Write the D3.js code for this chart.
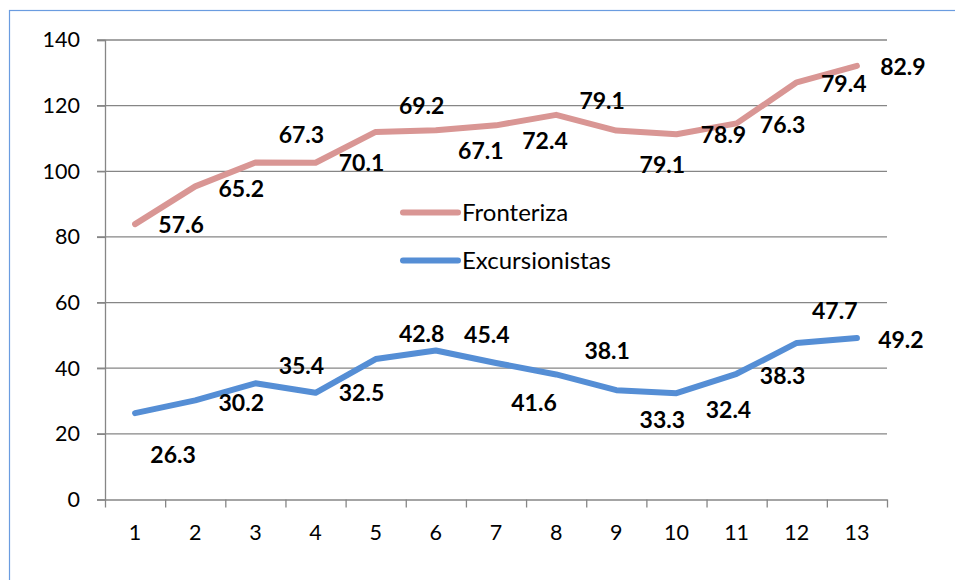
<!DOCTYPE html>
<html>
<head>
<meta charset="utf-8">
<script src="https://cdnjs.cloudflare.com/ajax/libs/d3/7.8.5/d3.min.js"></script>
<style>
body { margin: 0; background: #fff; }
text { font-family: Lato, "Open Sans", sans-serif; }
</style>
</head>
<body>
<svg id="visualisation" width="955" height="580"></svg>
<script>
var categories = ["1", "2", "3", "4", "5", "6", "7", "8", "9", "10", "11", "12", "13"];
var excursionistas = [26.3, 30.2, 35.4, 32.5, 42.8, 45.4, 41.6, 38.1, 33.3, 32.4, 38.3, 47.7, 49.2];
var fronteriza = [57.6, 65.2, 67.3, 70.1, 69.2, 67.1, 72.4, 79.1, 79.1, 78.9, 76.3, 79.4, 82.9];
var yTicks = [0, 20, 40, 60, 80, 100, 120, 140];
var seriesNames = ["Fronteriza", "Excursionistas"];

// label placement (dx, dy from the point), as Excel left them
var frontLabelPos = [[46, 1], [46, 2], [46, -28], [46, 0], [46, -26], [45, 20], [49, 15],
    [46, -14], [46, 34], [47, 1], [46, 1], [47, 1], [46, 1]];
var excLabelPos = [[38, 42], [46, 2], [46, -18], [46, 0], [46, -25], [51, -16], [38, 40],
    [51, -24], [46, 30], [52, 17], [46, 2], [38, -32], [44, 2]];

var vis = d3.select("#visualisation"),
    MARGINS = { top: 40, right: 68, bottom: 80.5, left: 105 },
    WIDTH = 955,
    HEIGHT = 580,
    GRID = "#868686",
    PINK = "#D99694",
    BLUE = "#558ED5";

// stacked: the Fronteriza line sits on top of Excursionistas
var stacked = fronteriza.map(function (d, i) { return d + excursionistas[i]; });

var xBand = d3.scaleBand()
    .domain(categories)
    .range([MARGINS.left, WIDTH - MARGINS.right]);

var xEdge = d3.scaleLinear()
    .domain([0, categories.length])
    .range([MARGINS.left, WIDTH - MARGINS.right]);

var yScale = d3.scaleLinear()
    .domain([0, 140])
    .range([HEIGHT - MARGINS.bottom, MARGINS.top]);

function cx(i) { return xBand(categories[i]) + xBand.bandwidth() / 2; }

// chart area border
vis.append("rect")
    .attr("x", 9.5)
    .attr("y", 10.5)
    .attr("width", 1000)
    .attr("height", 1000)
    .attr("fill", "none")
    .attr("stroke", "#6A9CE0")
    .attr("stroke-width", 1.2);

// gridlines
vis.append("g")
    .selectAll("line")
    .data(yTicks.slice(1))
    .join("line")
    .attr("x1", MARGINS.left - 8)
    .attr("x2", WIDTH - MARGINS.right)
    .attr("y1", function (d) { return yScale(d); })
    .attr("y2", function (d) { return yScale(d); })
    .attr("stroke", GRID)
    .attr("stroke-width", 1.3);

var yAxis = d3.axisLeft(yScale)
    .tickValues(yTicks)
    .tickSize(8)
    .tickPadding(17);

var yg = vis.append("g")
    .attr("transform", "translate(" + MARGINS.left + ",0)")
    .call(yAxis);
yg.select(".domain").attr("stroke", GRID).attr("stroke-width", 1.3);
yg.selectAll(".tick line").attr("stroke", GRID).attr("stroke-width", 1.3);
yg.selectAll(".tick text")
    .attr("font-size", 21.5)
    .attr("fill", "#000")
    .style("font-family", "Lato");

// x axis: tick marks between the categories
var xTicksAxis = d3.axisBottom(xEdge)
    .tickValues(d3.range(0, categories.length + 1))
    .tickSize(8)
    .tickSizeOuter(0)
    .tickFormat("");

var xg = vis.append("g")
    .attr("transform", "translate(0," + yScale(0) + ")")
    .call(xTicksAxis);
xg.select(".domain").attr("stroke", GRID).attr("stroke-width", 1.3);
xg.selectAll(".tick line").attr("stroke", GRID).attr("stroke-width", 1.3);

var xAxis = d3.axisBottom(xBand)
    .tickSize(0)
    .tickPadding(25);

var xl = vis.append("g")
    .attr("transform", "translate(0," + yScale(0) + ")")
    .call(xAxis);
xl.select(".domain").remove();
xl.selectAll(".tick text")
    .attr("font-size", 21.5)
    .attr("fill", "#000")
    .style("font-family", "Lato");

var lineGen = d3.line()
    .x(function (d, i) { return cx(i); })
    .y(function (d) { return yScale(d); });

vis.append("path")
    .attr("d", lineGen(excursionistas))
    .attr("stroke", BLUE)
    .attr("stroke-width", 6)
    .attr("stroke-linejoin", "round")
    .attr("stroke-linecap", "round")
    .attr("fill", "none");

vis.append("path")
    .attr("d", lineGen(stacked))
    .attr("stroke", PINK)
    .attr("stroke-width", 6)
    .attr("stroke-linejoin", "round")
    .attr("stroke-linecap", "round")
    .attr("fill", "none");

// data labels
function addLabels(values, plotted, pos) {
    vis.append("g")
        .selectAll("text")
        .data(values)
        .join("text")
        .attr("x", function (d, i) { return cx(i) + pos[i][0]; })
        .attr("y", function (d, i) { return yScale(plotted[i]) + pos[i][1]; })
        .attr("dy", "0.36em")
        .attr("text-anchor", "middle")
        .attr("font-size", 23)
        .attr("font-weight", "bold")
        .attr("fill", "#000")
        .text(function (d) { return d.toFixed(1); });
}
addLabels(fronteriza, stacked, frontLabelPos);
addLabels(excursionistas, excursionistas, excLabelPos);

// legend
var legend = vis.append("g")
    .attr("transform", "translate(403,212.5)");
legend.selectAll("line")
    .data(seriesNames)
    .join("line")
    .attr("x1", 0)
    .attr("x2", 55)
    .attr("y1", function (d, i) { return i * 48; })
    .attr("y2", function (d, i) { return i * 48; })
    .attr("stroke", function (d, i) { return i === 0 ? PINK : BLUE; })
    .attr("stroke-width", 6)
    .attr("stroke-linecap", "round");
legend.selectAll("text")
    .data(seriesNames)
    .join("text")
    .attr("x", 59)
    .attr("y", function (d, i) { return i * 48; })
    .attr("dy", "0.36em")
    .attr("font-size", 24)
    .attr("fill", "#000")
    .text(function (d) { return d; });
</script>
</body>
</html>
